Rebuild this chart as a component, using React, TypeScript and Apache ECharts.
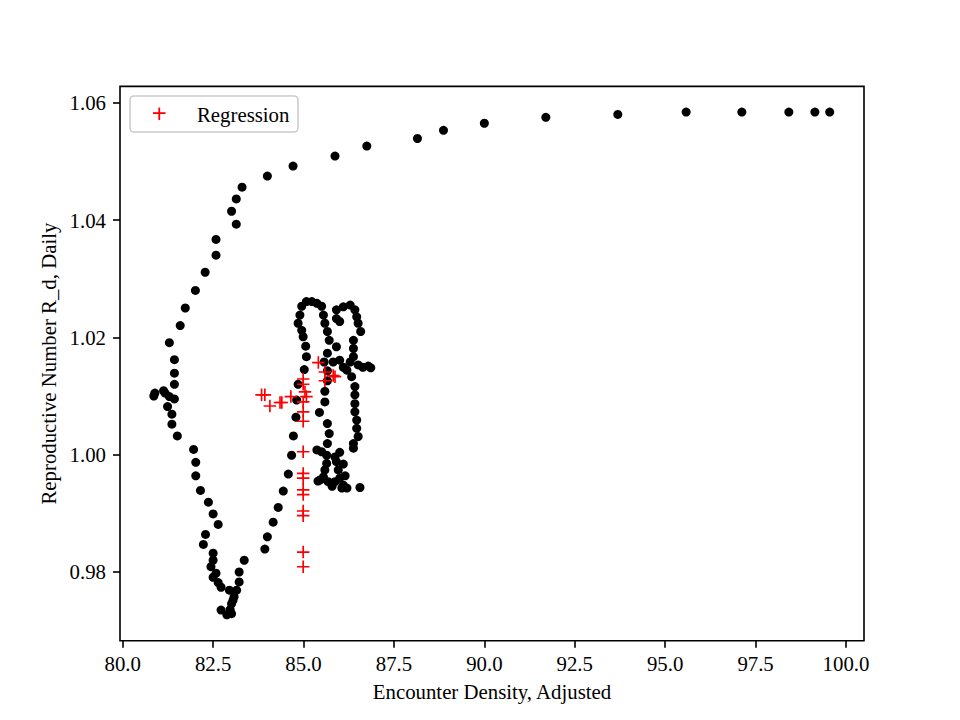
import React, { useEffect, useRef } from "react";
import * as echarts from "echarts";

// ---- Data ----
const xTicks = [80, 82.5, 85, 87.5, 90, 92.5, 95, 97.5, 100];
const yTicks = [0.98, 1.0, 1.02, 1.04, 1.06];
const legendLabel = "Regression";

// black observed points: [encounter density, R_d]
const upperArc: number[][] = [
  [99.55, 1.0584], [99.14, 1.0584], [98.42, 1.0584], [97.12, 1.0584], [95.58, 1.0584],
  [93.69, 1.058], [91.7, 1.0575], [90.0, 1.0565], [88.87, 1.0553], [88.15, 1.0539],
  [86.75, 1.0526], [85.87, 1.0509], [84.71, 1.0492], [84.0, 1.0475], [83.3, 1.0456],
  [83.14, 1.0436], [83.01, 1.0415], [83.14, 1.0393], [82.58, 1.0367], [82.58, 1.034],
  [82.28, 1.0311], [82.01, 1.028], [81.73, 1.025], [81.59, 1.022], [81.29, 1.0191],
  [81.43, 1.0162], [81.43, 1.0139], [81.43, 1.012],
];
const leftLoop: number[][] = [
  [80.89, 1.0105], [80.86, 1.01], [81.13, 1.0109], [81.17, 1.0105], [81.29, 1.0099],
  [81.43, 1.0095], [81.24, 1.0082], [81.36, 1.0069], [81.36, 1.0052], [81.51, 1.0032],
  [81.96, 1.0009], [82.02, 0.9987], [82.02, 0.9964], [82.15, 0.9939], [82.37, 0.9919],
  [82.5, 0.9899], [82.64, 0.9881], [82.29, 0.9864], [82.23, 0.9847], [82.5, 0.9832],
  [82.5, 0.982], [82.44, 0.9809], [82.58, 0.9798], [82.5, 0.9791], [82.64, 0.9782],
  [82.72, 0.9774], [82.95, 0.9769], [83.15, 0.9769], [83.08, 0.9758], [83.01, 0.9746],
  [82.97, 0.9736], [82.72, 0.9735], [82.88, 0.9727], [83.01, 0.9729], [83.05, 0.9752],
  [83.36, 0.982], [83.22, 0.98], [83.22, 0.9783],
];
const risingBranch: number[][] = [
  [83.93, 0.9839], [84.0, 0.986], [84.16, 0.9885], [84.3, 0.991], [84.44, 0.9938],
  [84.58, 0.9967], [84.67, 0.9999], [84.72, 1.0032], [84.79, 1.0064], [84.81, 1.0093],
  [84.85, 1.012], [85.02, 1.0145], [85.08, 1.0167], [85.06, 1.0185], [84.99, 1.0201],
  [84.95, 1.0212], [84.85, 1.0224], [84.9, 1.0238], [84.95, 1.0253], [85.08, 1.0261],
  [85.23, 1.0261], [85.37, 1.0258], [85.5, 1.0253], [85.55, 1.0238], [85.59, 1.0224],
  [85.66, 1.021], [85.71, 1.0195], [85.66, 1.0173], [85.91, 1.0184], [86.0, 1.0161],
  [85.82, 1.0158], [85.57, 1.0158], [85.66, 1.0143], [85.66, 1.0126], [85.59, 1.0108],
  [85.59, 1.009], [85.44, 1.0072], [85.66, 1.0053], [85.71, 1.0036], [85.66, 1.0019],
];
const rightCluster: number[][] = [
  [85.91, 1.0247], [86.1, 1.0252], [86.29, 1.0255], [86.42, 1.0247], [85.91, 1.0232],
  [86.0, 1.0227], [86.47, 1.0235], [86.51, 1.0224], [86.58, 1.021], [86.38, 1.0195],
  [86.38, 1.0181], [86.38, 1.0167], [86.29, 1.0158], [86.51, 1.0153], [86.79, 1.0151],
  [86.64, 1.0149], [86.86, 1.0148], [86.2, 1.0144], [86.1, 1.0149], [86.33, 1.0133],
  [86.42, 1.0116], [86.42, 1.0102], [86.42, 1.0087], [86.42, 1.0073], [86.47, 1.0059],
  [86.47, 1.0045], [86.51, 1.0031], [86.38, 1.0019], [86.38, 1.0011],
];
const bottomCluster: number[][] = [
  [85.37, 1.0008], [85.5, 1.0005], [85.64, 0.9999], [85.87, 0.9996], [85.91, 0.9988],
  [85.64, 0.9985], [85.96, 0.9974], [85.59, 0.9974], [85.55, 0.9962], [86.0, 0.996],
  [85.46, 0.9957], [85.68, 0.9954], [85.87, 0.9954], [86.1, 0.9948], [86.2, 0.9943],
  [86.06, 0.9943], [86.56, 0.9944], [85.4, 0.9955], [85.79, 0.9946], [86.15, 0.9964],
  [86.1, 0.9984], [86.0, 1.0004],
];
// red "+" regression points
const regression: number[][] = [
  [83.84, 1.0102], [83.93, 1.0102], [84.07, 1.0083], [84.35, 1.0089], [84.4, 1.0089],
  [84.65, 1.0099], [84.99, 1.0129], [84.99, 1.012], [85.04, 1.0107], [85.08, 1.0099],
  [84.99, 1.009], [84.99, 1.0073], [84.99, 1.0057], [84.99, 1.0005], [84.99, 0.9968],
  [84.99, 0.996], [84.99, 0.994], [84.99, 0.9932], [84.99, 0.9904], [84.99, 0.9896],
  [84.99, 0.9834], [84.99, 0.9809], [85.41, 1.0157], [85.59, 1.0126], [85.82, 1.0135],
  [85.87, 1.0133], [85.59, 1.0141],
];

const observed = [
  ...upperArc,
  ...leftLoop,
  ...risingBranch,
  ...rightCluster,
  ...bottomCluster,
];

const FONT = "Liberation Serif";
const PLUS = "path://M5.2,0H6.8V5.2H12V6.8H6.8V12H5.2V6.8H0V5.2H5.2Z";

export default function App() {
  const ref = useRef<HTMLDivElement>(null);

  useEffect(() => {
    if (!ref.current) return;
    const chart = echarts.init(ref.current, undefined, { renderer: "svg" });
    chart.setOption({
      animation: false,
      backgroundColor: "#ffffff",
      textStyle: { fontFamily: FONT },
      grid: {
        left: 120,
        top: 86.4,
        width: 744,
        height: 554.4,
        show: true,
        borderColor: "#000",
        borderWidth: 1.6,
        backgroundColor: "transparent",
        containLabel: false,
        outerBoundsMode: "none",
      },
      xAxis: {
        type: "value",
        min: 79.925,
        max: 100.498,
        name: "Encounter Density, Adjusted",
        nameLocation: "middle",
        nameGap: 40,
        nameTextStyle: { fontFamily: FONT, fontSize: 20.8, color: "#000" },
        axisLine: { show: false },
        splitLine: { show: false },
        axisTick: {
          show: true,
          length: 7,
          customValues: xTicks,
          lineStyle: { color: "#000", width: 1.6 },
        },
        axisLabel: {
          customValues: xTicks,
          formatter: (v: number) => v.toFixed(1),
          fontFamily: FONT,
          fontSize: 20.8,
          color: "#000",
          margin: 12,
        },
      },
      yAxis: {
        type: "value",
        min: 0.96827,
        max: 1.06278,
        name: "Reproductive Number R_d, Daily",
        nameLocation: "middle",
        nameRotate: 90,
        nameGap: 58,
        nameTextStyle: { fontFamily: FONT, fontSize: 20.8, color: "#000" },
        axisLine: { show: false },
        splitLine: { show: false },
        axisTick: {
          show: true,
          length: 7,
          customValues: yTicks,
          lineStyle: { color: "#000", width: 1.6 },
        },
        axisLabel: {
          customValues: yTicks,
          formatter: (v: number) => v.toFixed(2),
          fontFamily: FONT,
          fontSize: 20.8,
          color: "#000",
          margin: 14,
        },
      },
      graphic: [
        {
          type: "group",
          z: 100,
          children: [
            {
              type: "rect",
              shape: { x: 130, y: 96, width: 168, height: 36, r: 4 },
              style: {
                fill: "rgba(255,255,255,0.8)",
                stroke: "#cccccc",
                lineWidth: 1.6,
              },
            },
            {
              type: "rect",
              shape: { x: 153, y: 112.2, width: 12.5, height: 1.8 },
              style: { fill: "#ff0000" },
            },
            {
              type: "rect",
              shape: { x: 158.35, y: 107.6, width: 1.8, height: 12.5 },
              style: { fill: "#ff0000" },
            },
            {
              type: "text",
              x: 197,
              y: 114,
              style: {
                text: legendLabel,
                fontFamily: FONT,
                fontSize: 20.8,
                fill: "#000",
                verticalAlign: "middle",
                align: "left",
              },
            },
          ],
        },
      ],
      series: [
        {
          name: "Observed",
          type: "scatter",
          data: observed,
          symbol: "circle",
          symbolSize: 9,
          itemStyle: { color: "#000", opacity: 1 },
          z: 2,
        },
        {
          name: legendLabel,
          type: "scatter",
          data: regression,
          symbol: PLUS,
          symbolSize: 12.5,
          itemStyle: { color: "#ff0000", opacity: 1 },
          z: 3,
        },
      ],
    });
    return () => chart.dispose();
  }, []);

  return (
    <div
      ref={ref}
      style={{ position: "fixed", left: 0, top: 0, width: 960, height: 720 }}
    />
  );
}
